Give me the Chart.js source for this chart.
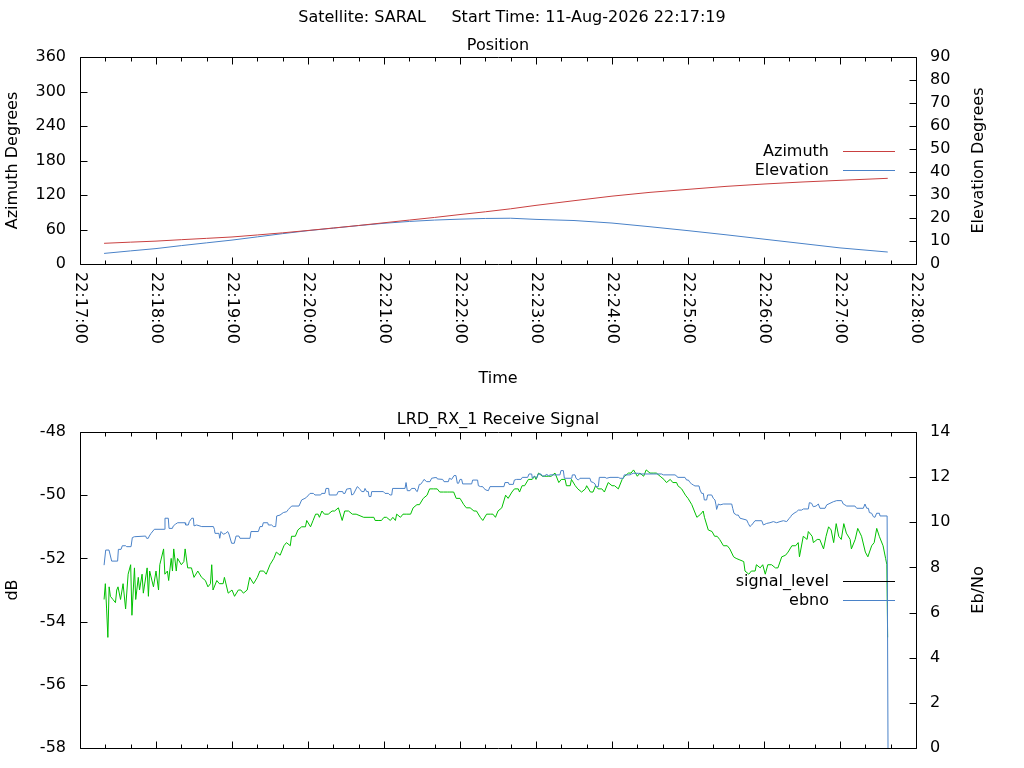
<!DOCTYPE html>
<html>
<head>
<meta charset="utf-8">
<title>SARAL pass</title>
<script src="https://cdn.jsdelivr.net/npm/chart.js@4.4.1/dist/chart.umd.min.js"></script>
<style>
    body { margin: 0; background: #fff; width: 1024px; height: 768px; overflow: hidden; position: relative; }
    #title {
        position: absolute; left: 0; top: 7px; width: 1024px; z-index: 2;
        text-align: center; white-space: pre; color: #000;
        font: 16px/19px "DejaVu Sans", sans-serif;
    }
    #pos { position: absolute; left: 0; top: 0; }
    #sig { position: absolute; left: 0; top: 400px; }
</style>
</head>
<body>
<div id="title">Satellite: SARAL     Start Time: 11-Aug-2026 22:17:19</div>
<canvas id="pos" width="996" height="400"></canvas>
<canvas id="sig" width="996" height="368"></canvas>

<script>
// seconds after 22:17:00
const timeRange = [0, 660];

// Position panel
const posTime = [19, 40, 60, 80, 100, 120, 140, 160, 180, 200, 220, 240, 260, 280,
    300, 320, 340, 360, 390, 420, 450, 480, 510, 540, 570, 600, 637.7];
const azimuth = [36.0, 38.0, 39.8, 42.3, 44.6, 47.0, 50.5, 54.2, 58.3, 62.6, 67.0, 71.7, 76.4, 81.0,
    86.0, 90.8, 96.0, 102.0, 110.1, 118.0, 124.6, 129.8, 135.0, 139.1, 142.6, 145.5, 149.0];
const elevation = [4.6, 5.7, 6.7, 8.0, 9.2, 10.4, 11.8, 13.2, 14.5, 15.6, 16.7, 17.7, 18.5, 19.1,
    19.5, 19.8, 19.9, 19.4, 18.9, 17.8, 16.2, 14.5, 12.7, 10.8, 8.9, 7.0, 5.2];
const azimuthAxis = [0, 360, 60];
const elevationAxis = [0, 90, 10];

// Receive signal panel
const sigTime = [
    19, 20, 21, 22, 23, 24, 26, 28, 29, 30,
    32, 34, 36, 38, 40, 41, 43, 44, 46, 47,
    49, 50, 53, 54, 55, 58, 60, 62, 63, 66,
    67, 69, 70, 72, 73, 74, 76, 77, 80, 82,
    83, 85, 88, 90, 93, 96, 99, 101, 103, 104,
    105, 108, 110, 113, 114, 117, 120, 122, 125, 127,
    129, 132, 134, 137, 140, 142, 145, 147, 150, 153,
    155, 158, 161, 163, 166, 167, 170, 172, 175, 178,
    179, 182, 184, 186, 188, 189, 191, 193, 196, 199,
    201, 204, 207, 209, 212, 215, 218, 224, 229, 232,
    233, 236, 238, 240, 242, 245, 247, 249, 250, 253,
    255, 258, 261, 263, 266, 268, 271, 274, 276, 279,
    282, 284, 287, 290, 292, 295, 297, 300, 303, 305,
    308, 311, 313, 316, 318, 321, 324, 326, 328, 330,
    333, 336, 338, 341, 343, 346, 347, 349, 351, 354,
    357, 359, 360, 362, 365, 367, 370, 372, 375, 378,
    380, 383, 384, 387, 388, 391, 393, 396, 399, 400,
    403, 405, 407, 409, 412, 414, 417, 420, 422, 425,
    428, 430, 433, 435, 437, 440, 442, 445, 447, 450,
    453, 455, 458, 461, 463, 466, 468, 471, 472, 475,
    478, 480, 483, 485, 487, 490, 492, 493, 496, 499,
    501, 503, 505, 508, 511, 513, 516, 518, 521, 524,
    525, 528, 530, 533, 534, 537, 539, 541, 543, 546,
    549, 551, 554, 557, 559, 562, 565, 567, 568, 571,
    574, 575, 578, 579, 582, 584, 587, 589, 591, 593,
    595, 597, 599, 601, 603, 605, 608, 609, 612, 614,
    617, 620, 622, 625, 627, 629, 631, 634, 636, 637,
    637.6];
const signalLevel = [
    -53.3, -52.8, -53.6, -54.5, -52.9, -53.2, -53.3, -53.4, -53.0, -52.9,
    -53.3, -52.8, -53.6, -52.5, -52.2, -53.8, -52.3, -53.3, -52.6, -53.0,
    -52.5, -53.1, -52.3, -53.2, -52.4, -52.9, -52.4, -53.0, -52.2, -51.7,
    -52.5, -52.4, -52.7, -52.0, -52.4, -51.7, -52.4, -52.0, -52.2, -52.1,
    -51.7, -52.3, -52.3, -52.6, -52.4, -52.6, -52.7, -52.9, -52.8, -52.2,
    -53.0, -52.7, -52.8, -52.8, -52.6, -53.1, -53.0, -53.2, -53.0, -53.0,
    -53.1, -53.0, -52.6, -52.8, -52.6, -52.4, -52.4, -52.5, -52.2, -52.0,
    -51.8, -51.9, -51.6, -51.5, -51.6, -51.3, -51.3, -51.1, -51.0, -51.0,
    -50.8, -51.0, -50.8, -50.6, -50.6, -50.7, -50.5, -50.6, -50.6, -50.5,
    -50.5, -50.4, -50.8, -50.5, -50.5, -50.6, -50.6, -50.7, -50.7, -50.7,
    -50.8, -50.8, -50.8, -50.7, -50.7, -50.8, -50.7, -50.8, -50.6, -50.7,
    -50.6, -50.6, -50.6, -50.4, -50.3, -50.3, -50.1, -50.0, -49.8, -49.8,
    -49.8, -49.9, -49.9, -49.9, -49.9, -49.9, -50.1, -50.1, -50.3, -50.4,
    -50.4, -50.5, -50.5, -50.7, -50.8, -50.6, -50.6, -50.6, -50.7, -50.5,
    -50.4, -50.0, -50.1, -49.9, -49.8, -49.8, -49.9, -49.7, -49.7, -49.5,
    -49.5, -49.4, -49.5, -49.3, -49.4, -49.4, -49.4, -49.4, -49.3, -49.6,
    -49.5, -49.5, -49.7, -49.7, -49.5, -49.7, -49.8, -49.9, -49.8, -49.7,
    -49.9, -49.9, -49.7, -49.8, -49.8, -49.9, -49.6, -49.7, -49.7, -49.8,
    -49.5, -49.4, -49.3, -49.3, -49.2, -49.4, -49.3, -49.4, -49.2, -49.3,
    -49.3, -49.3, -49.4, -49.5, -49.6, -49.5, -49.6, -49.6, -49.7, -49.8,
    -50.0, -50.1, -50.3, -50.5, -50.7, -50.6, -50.5, -50.7, -51.1, -51.15,
    -51.3, -51.3, -51.4, -51.6, -51.6, -51.7, -51.95, -52.0, -52.05, -52.1,
    -52.4, -52.5, -52.4, -52.4, -52.2, -52.3, -52.2, -52.5, -52.2, -52.2,
    -52.3, -52.3, -51.95, -51.9, -51.8, -51.6, -51.6, -51.5, -51.95, -51.3,
    -51.4, -51.15, -51.3, -51.5, -51.4, -51.4, -51.7, -51.3, -51.0, -51.1,
    -51.5, -50.9, -51.3, -51.4, -50.9, -51.2, -51.4, -51.7, -51.4, -51.05,
    -51.3, -51.8, -51.95, -51.6, -51.5, -51.05, -51.3, -51.6, -52.0, -52.2,
    -54.5];

const ebnoTime = [
    19, 20.3, 22.9, 25.0, 29.7, 30.3, 32.4, 33.4, 36.1, 36.8,
    40.3, 41.3, 42.9, 51.8, 52.6, 53.9, 54.7, 56.1, 58.7, 66.6,
    67.1, 69.7, 70.3, 72.9, 73.7, 75.5, 77.1, 82.9, 83.4, 85.5,
    86.3, 88.2, 89.5, 90.0, 92.1, 96.1, 105.3, 106.1, 106.6, 109.7,
    110.3, 111.3, 113.2, 115.0, 116.6, 117.6, 119.7, 121.8, 123.2, 125.5,
    126.3, 134.2, 135.0, 140.8, 142.1, 143.9, 144.7, 148.2, 148.7, 151.3,
    152.6, 154.5, 155.3, 157.9, 160.5, 163.2, 164.5, 167.1, 172.9, 175.0,
    177.6, 178.9, 181.6, 184.2, 185.5, 190.0, 190.8, 193.4, 194.2, 196.3,
    196.8, 202.6, 203.9, 207.4, 207.9, 209.2, 210.5, 213.7, 214.5, 215.8,
    218.9, 220.5, 221.1, 222.4, 224.2, 225.0, 226.3, 227.6, 228.2, 229.7,
    230.3, 239.5, 240.8, 243.4, 244.7, 246.1, 246.8, 256.6, 257.4, 258.4,
    260.5, 261.8, 264.5, 265.3, 266.3, 267.9, 268.9, 270.5, 271.6, 273.7,
    276.3, 277.6, 280.3, 281.6, 282.1, 286.3, 287.4, 290.8, 291.6, 293.4,
    295.3, 296.8, 297.9, 298.9, 300.0, 301.3, 302.1, 309.2, 310.0, 313.9,
    314.5, 316.3, 317.9, 318.9, 320.5, 322.4, 323.7, 334.7, 335.5, 338.2,
    338.7, 342.1, 342.9, 344.7, 348.2, 349.2, 353.4, 354.5, 356.6, 357.1,
    358.7, 360.5, 361.8, 363.9, 365.0, 367.1, 368.4, 369.7, 371.1, 378.9,
    379.7, 381.6, 382.4, 388.2, 388.7, 390.8, 391.6, 393.4, 394.7, 402.6,
    403.4, 405.3, 406.6, 407.4, 409.2, 410.0, 414.5, 415.8, 418.4, 425.0,
    426.3, 428.9, 429.7, 434.2, 435.5, 436.8, 440.8, 442.1, 459.2, 460.5,
    469.7, 471.1, 471.8, 477.6, 478.9, 480.3, 481.6, 482.9, 484.2, 485.5,
    488.7, 489.5, 490.8, 492.1, 492.9, 494.7, 495.5, 498.7, 500.0, 501.3,
    502.1, 502.6, 504.0, 505.3, 507.9, 514.5, 515.3, 516.3, 518.4, 519.7,
    521.1, 526.3, 527.6, 528.9, 530.3, 532.9, 538.2, 539.5, 542.1, 544.7,
    547.4, 550.0, 552.6, 555.3, 557.9, 560.0, 561.1, 561.8, 564.5, 565.8,
    567.1, 569.7, 571.1, 575.0, 575.8, 577.6, 578.9, 581.1, 582.9, 584.2,
    588.2, 589.5, 592.1, 594.7, 597.4, 601.3, 602.6, 603.9, 605.3, 611.8,
    613.2, 618.4, 619.7, 621.1, 622.4, 623.2, 625.0, 626.3, 627.6, 628.9,
    631.1, 631.6, 637.2, 637.9];
const ebno = [
    8.10, 8.77, 8.77, 8.28, 8.28, 8.80, 8.80, 8.96, 8.96, 8.92,
    8.92, 9.32, 9.36, 9.39, 9.29, 9.29, 9.39, 9.51, 9.69, 9.69,
    10.18, 10.18, 9.73, 9.73, 9.84, 9.92, 9.98, 9.98, 9.88, 9.88,
    10.03, 10.18, 10.18, 9.84, 9.88, 9.81, 9.81, 9.69, 9.51, 9.51,
    9.29, 9.59, 9.47, 9.51, 9.59, 9.48, 9.07, 9.07, 9.39, 9.39,
    9.29, 9.29, 9.59, 9.59, 9.81, 9.81, 9.98, 9.98, 9.88, 9.88,
    9.81, 9.81, 10.28, 10.32, 10.43, 10.47, 10.57, 10.72, 10.72, 10.99,
    11.06, 11.11, 11.28, 11.28, 11.21, 11.21, 11.28, 11.28, 11.50, 11.50,
    11.21, 11.21, 11.36, 11.36, 11.28, 11.28, 11.47, 11.50, 11.21, 11.24,
    11.58, 11.50, 11.46, 11.36, 11.36, 11.50, 11.36, 11.36, 11.14, 11.14,
    11.36, 11.36, 11.28, 11.28, 11.21, 11.21, 11.50, 11.50, 11.76, 11.40,
    11.40, 11.50, 11.50, 11.40, 11.36, 11.68, 11.68, 11.80, 11.90, 11.80,
    11.80, 11.95, 11.98, 11.98, 11.92, 11.90, 11.80, 11.80, 11.95, 11.90,
    12.07, 12.07, 11.73, 11.73, 11.90, 11.90, 11.70, 11.70, 11.87, 11.87,
    11.62, 11.58, 11.58, 11.50, 11.43, 11.40, 11.58, 11.58, 11.76, 11.76,
    11.68, 11.68, 11.87, 11.90, 11.90, 11.99, 11.99, 12.14, 12.14, 11.95,
    12.05, 11.95, 12.14, 12.14, 12.05, 12.05, 12.14, 12.05, 12.10, 12.10,
    12.29, 12.29, 11.95, 11.95, 12.10, 12.10, 11.95, 11.87, 11.95, 11.95,
    11.80, 11.76, 11.70, 11.58, 11.58, 11.99, 11.99, 11.95, 11.99, 11.99,
    11.95, 11.95, 12.10, 12.10, 12.14, 12.17, 12.17, 12.14, 12.14, 12.10,
    12.10, 12.05, 11.99, 11.99, 11.87, 11.87, 11.76, 11.70, 11.65, 11.61,
    11.61, 11.43, 11.28, 11.28, 10.99, 10.99, 11.21, 11.21, 11.06, 10.99,
    10.77, 10.57, 10.81, 10.77, 10.81, 10.81, 10.62, 10.40, 10.32, 10.32,
    10.18, 10.10, 9.95, 9.81, 9.88, 10.07, 10.07, 9.88, 9.95, 9.98,
    10.03, 9.98, 10.03, 10.07, 10.03, 10.18, 10.25, 10.32, 10.43, 10.47,
    10.54, 10.54, 10.59, 10.59, 10.87, 10.84, 10.69, 10.72, 10.81, 10.62,
    10.62, 10.77, 10.84, 10.91, 10.96, 10.96, 10.81, 10.77, 10.72, 10.72,
    10.62, 10.62, 10.81, 10.62, 10.62, 10.43, 10.40, 10.25, 10.22, 10.40,
    10.40, 10.28, 10.28, 0];
const dbAxis = [-58, -48, 2];
const ebnoAxis = [0, 14, 2];

const START_OF_DAY = 22 * 3600 + 17 * 60;
const FONT = '"DejaVu Sans", sans-serif';

Chart.defaults.font.family = FONT;
Chart.defaults.font.size = 16;
Chart.defaults.color = '#000';

function clock(sec) {
    const s = START_OF_DAY + sec;
    const pad = n => String(n).padStart(2, '0');
    return pad(Math.floor(s / 3600)) + ':' + pad(Math.floor(s / 60) % 60) + ':' + pad(s % 60);
}

const points = (xs, ys) => xs.map((x, i) => ({x, y: ys[i]}));

// gnuplot look: full border, inward ticks, key inside on the right
const gnuplotFrame = {
    id: 'gnuplotFrame',

    beforeDatasetsDraw(chart) {
        const {ctx, chartArea: a, scales} = chart;
        const L = Math.round(a.left) + 0.5, R = Math.round(a.right) + 0.5;
        const T = Math.round(a.top) + 0.5, B = Math.round(a.bottom) + 0.5;

        ctx.save();
        ctx.strokeStyle = '#000';
        ctx.lineWidth = 1;
        ctx.beginPath();
        ctx.rect(L, T, R - L, B - T);

        for (const t of scales.x.ticks) {
            const px = Math.round(scales.x.getPixelForValue(t.value)) + 0.5;
            const len = t.value % 60 === 0 ? 7 : 4;
            ctx.moveTo(px, B); ctx.lineTo(px, B - len);
            ctx.moveTo(px, T); ctx.lineTo(px, T + len);
        }
        for (const t of scales.y.ticks) {
            const py = Math.round(scales.y.getPixelForValue(t.value)) + 0.5;
            ctx.moveTo(L, py); ctx.lineTo(L + 7, py);
        }
        for (const t of scales.y2.ticks) {
            const py = Math.round(scales.y2.getPixelForValue(t.value)) + 0.5;
            ctx.moveTo(R, py); ctx.lineTo(R - 7, py);
        }
        ctx.stroke();
        ctx.restore();
    },

    afterDatasetsDraw(chart, args, opts) {
        const {ctx, chartArea: a, scales} = chart;
        const sets = chart.data.datasets;
        const mid = (a.top + a.bottom) / 2;

        ctx.save();
        ctx.font = '16px ' + FONT;
        ctx.fillStyle = '#000';
        ctx.lineWidth = 1;

        // key
        ctx.textAlign = 'right';
        ctx.textBaseline = 'middle';
        sets.forEach((ds, i) => {
            const y = Math.round(mid - 9.5 * (sets.length - 1) + 19 * i) + 0.5;
            ctx.fillText(ds.label, a.right - 87, y);
            ctx.strokeStyle = ds.keyColor || ds.borderColor;
            ctx.beginPath();
            ctx.moveTo(a.right - 73, y);
            ctx.lineTo(a.right - 21, y);
            ctx.stroke();
        });

        // y2 label, rotated the same way as the y label
        if (opts.rightTitle) {
            ctx.save();
            ctx.translate(a.right + 63, mid);
            ctx.rotate(-Math.PI / 2);
            ctx.textAlign = 'center';
            ctx.fillText(opts.rightTitle, 0, 0);
            ctx.restore();
        }

        // time labels rotated to read downwards
        if (opts.timeLabels) {
            ctx.textAlign = 'left';
            for (const t of scales.x.ticks) {
                if (t.value % 60 !== 0) continue;
                ctx.save();
                ctx.translate(scales.x.getPixelForValue(t.value), a.bottom + 8);
                ctx.rotate(Math.PI / 2);
                ctx.fillText(clock(t.value), 0, 0);
                ctx.restore();
            }
        }
        ctx.restore();
    }
};

function timeAxis(height, title) {
    return {
        type: 'linear',
        min: timeRange[0],
        max: timeRange[1],
        ticks: {display: false, stepSize: 20, maxTicksLimit: 100},
        grid: {display: false, drawTicks: false},
        border: {display: false},
        title: title
            ? {display: true, text: title, padding: {top: 0, bottom: 11.4}}
            : {display: false},
        afterFit: scale => { scale.height = height; }
    };
}

function valueAxis(position, range, title) {
    return {
        type: 'linear',
        position,
        min: range[0],
        max: range[1],
        ticks: {stepSize: range[2], maxTicksLimit: 100, autoSkip: false, padding: 14},
        grid: {display: false, drawTicks: false},
        border: {display: false},
        title: title
            ? {display: true, text: title, padding: {top: 3.4, bottom: 0}}
            : {display: false},
        afterFit: scale => {
            scale.width = 80;
            // end labels may overhang the plot box, as in gnuplot
            scale.paddingTop = 0;
            scale.paddingBottom = 0;
        }
    };
}

function lineSet(label, xs, ys, color, axis, extra) {
    return Object.assign({
        label,
        data: points(xs, ys),
        yAxisID: axis,
        borderColor: color,
        borderWidth: 1,
        pointRadius: 0,
        fill: false,
        tension: 0
    }, extra || {});
}

function baseOptions(titleText, titlePad, x, y, y2, frameOpts) {
    return {
        responsive: false,
        animation: false,
        events: [],
        layout: {padding: 0},
        scales: {x, y, y2},
        plugins: {
            legend: {display: false},
            tooltip: {enabled: false},
            title: {
                display: true,
                text: titleText,
                font: {size: 16, weight: 'normal'},
                padding: titlePad
            },
            gnuplotFrame: frameOpts
        }
    };
}

new Chart(document.getElementById('pos'), {
    type: 'line',
    data: {
        datasets: [
            lineSet('Azimuth', posTime, azimuth, '#c94040', 'y'),
            lineSet('Elevation', posTime, elevation, '#4a82c8', 'y2')
        ]
    },
    options: baseOptions(
        'Position',
        {top: 36.4, bottom: 1.4},
        timeAxis(136, 'Time'),
        valueAxis('left', azimuthAxis, 'Azimuth Degrees'),
        valueAxis('right', elevationAxis, null),
        {rightTitle: 'Elevation Degrees', timeLabels: true}
    ),
    plugins: [gnuplotFrame]
});

new Chart(document.getElementById('sig'), {
    type: 'line',
    data: {
        datasets: [
            lineSet('signal_level', sigTime, signalLevel, '#00c000', 'y', {keyColor: '#000', order: 1}),
            lineSet('ebno', ebnoTime, ebno, '#4a82c8', 'y2', {order: 0})
        ]
    },
    options: baseOptions(
        'LRD_RX_1 Receive Signal',
        {top: 10.4, bottom: 2.4},
        timeAxis(20, null),
        valueAxis('left', dbAxis, 'dB'),
        valueAxis('right', ebnoAxis, null),
        {rightTitle: 'Eb/No', timeLabels: false}
    ),
    plugins: [gnuplotFrame]
});
</script>
</body>
</html>
